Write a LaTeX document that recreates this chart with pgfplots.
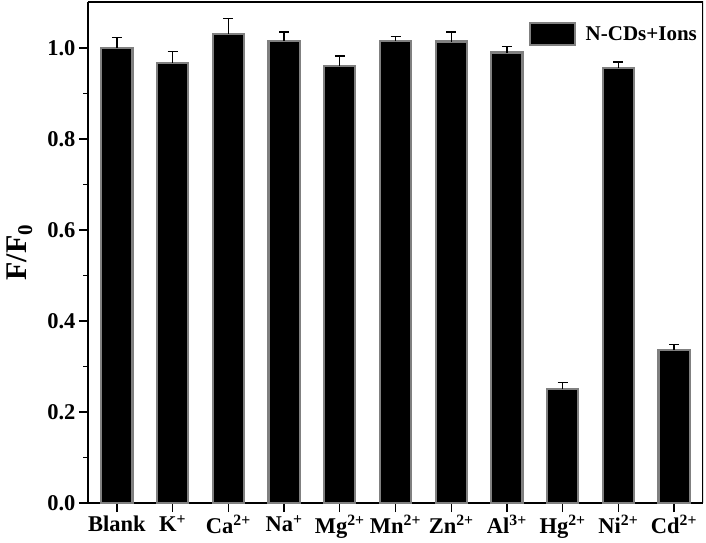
\documentclass[border=0pt]{standalone}
\usepackage{fontspec}
\setmainfont{Liberation Serif}
\usepackage{pgfplots}
\pgfplotsset{compat=1.18}
\definecolor{edgegray}{RGB}{128,128,128}
\begin{document}
\begin{tikzpicture}
\useasboundingbox (-88pt,-39pt) rectangle (618pt,503pt);
\begin{axis}[
  scale only axis,
  width=615pt, height=501pt,
  xmin=-0.52, xmax=10.52,
  ymin=0, ymax=1.101,
  xtick={0,...,10},
  xticklabels={Blank, K\textsuperscript{+}, Ca\textsuperscript{2+}, Na\textsuperscript{+}, Mg\textsuperscript{2+}, Mn\textsuperscript{2+}, Zn\textsuperscript{2+}, Al\textsuperscript{3+}, Hg\textsuperscript{2+}, Ni\textsuperscript{2+}, Cd\textsuperscript{2+}},
  ytick={0,0.2,...,1.0},
  minor ytick={0.1,0.3,...,0.9},
  axis x line*=bottom, axis y line*=left,
  tick align=outside,
  major tick length=9pt, minor tick length=4.5pt,
  every tick/.style={black, line width=1.3pt},
  axis line style={line width=1.3pt},
  yticklabel style={/pgf/number format/.cd, fixed, fixed zerofill, precision=1, assume math mode=true},
  ticklabel style={font=\fontsize{22.5}{26}\selectfont\bfseries},
  ylabel={F/F\textsubscript{0}},
  ylabel style={font=\fontsize{30}{34}\selectfont\bfseries, at={(axis description cs:-0.111,0.5)}, anchor=center},
  legend style={draw=none, fill=none, at={(axis description cs:0.716,0.936)}, anchor=west, font=\fontsize{21}{24}\selectfont\bfseries, inner sep=0pt, legend cell align=left},
  legend image code/.code={\draw[#1] (0pt,-11pt) rectangle (45pt,11pt);},
]
\draw[line width=1.3pt] (rel axis cs:0,1) -- (rel axis cs:1,1) -- (rel axis cs:1,0);
\addplot[ybar, bar width=0.56, fill=black, draw=edgegray, line width=2.2pt,
  error bars/.cd, y dir=plus, y explicit,
  error bar style={black, line width=1.3pt},
  error mark options={rotate=90, mark size=5pt, line width=1.3pt, black}]
  table[x=x, y=y, y error=e] {
x y e
0 1.000 0.023
1 0.967 0.025
2 1.031 0.033
3 1.016 0.019
4 0.960 0.022
5 1.015 0.010
6 1.014 0.021
7 0.990 0.013
8 0.250 0.015
9 0.956 0.013
10 0.336 0.013
};
\addlegendentry{\hspace{8pt}N-CDs+Ions}
\end{axis}
\end{tikzpicture}
\end{document}
